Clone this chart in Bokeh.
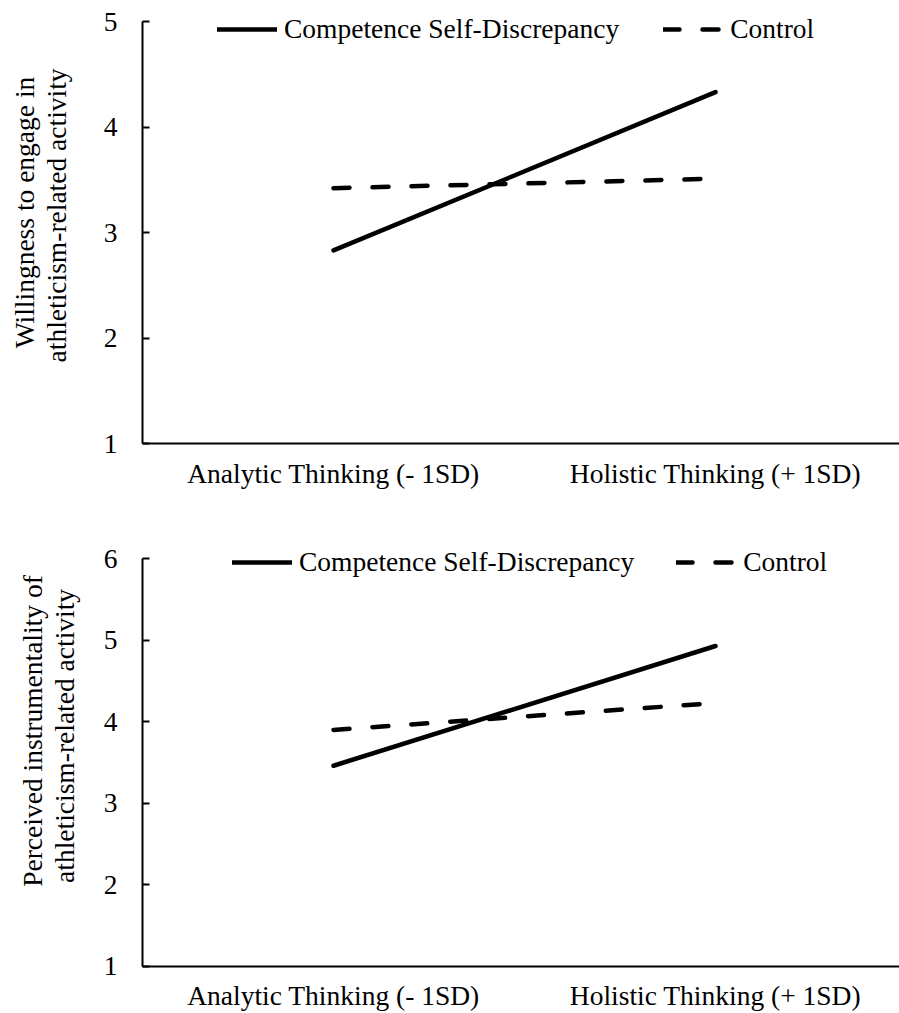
from bokeh.plotting import figure
from bokeh.models import Legend, LegendItem, Label, FixedTicker, Range1d
from bokeh.layouts import column
from bokeh.embed import file_html
from bokeh.resources import INLINE

# ---------------- data ----------------
categories = ["Analytic Thinking (- 1SD)", "Holistic Thinking (+ 1SD)"]
x_pos = [0, 1]
series_names = ["Competence Self-Discrepancy", "Control"]

willing_competence = [2.83, 4.33]
willing_control = [3.42, 3.51]
willing_ticks = [1, 2, 3, 4, 5]
willing_title = ["Willingness to engage in", "athleticism-related  activity"]

instr_competence = [3.46, 4.93]
instr_control = [3.90, 4.23]
instr_ticks = [1, 2, 3, 4, 5, 6]
instr_title = ["Perceived instrumentality of", "athleticism-related  activity"]

FONT = "Liberation Serif"
FS = "27.5px"
W = 899
PX_PER_CAT = 382.0        # pixels per category step
CAT0_PX = 333.0           # pixel position of first category
AXIS_X = -0.5             # category-axis lower edge (where the value axis crosses)
X_START = -CAT0_PX / PX_PER_CAT
X_END = X_START + W / PX_PER_CAT


def make_panel(comp, ctrl, ticks, title_lines, height, top_px, bottom_px,
               legend_loc, legend_spacing, title_pos):
    ppu = (bottom_px - top_px) / (ticks[-1] - ticks[0])
    y_start = ticks[0] - (height - bottom_px) / ppu
    y_end = ticks[-1] + top_px / ppu
    p = figure(width=W, height=height, output_backend="svg", toolbar_location=None,
               x_range=Range1d(X_START, X_END),
               y_range=Range1d(y_start, y_end),
               min_border_left=0, min_border_right=0,
               min_border_top=0, min_border_bottom=0,
               background_fill_color="white", border_fill_color="white")
    p.outline_line_color = None
    p.grid.visible = False

    r1 = p.line(x_pos, comp, line_width=4.5, line_color="black", line_cap="round")
    r2 = p.line(x_pos, ctrl, line_width=4.5, line_color="black", line_cap="round",
                line_dash="16 23")

    for ax in (p.xaxis[0], p.yaxis[0]):
        ax.axis_line_width = 2
        ax.axis_line_color = "black"
        ax.major_tick_line_width = 2
        ax.major_tick_line_color = "black"
        ax.minor_tick_line_color = None
        ax.major_label_text_font = FONT
        ax.major_label_text_font_size = FS
        ax.major_label_text_color = "black"
    p.xaxis.ticker = FixedTicker(ticks=x_pos)
    p.xaxis.major_label_overrides = {x: c for x, c in zip(x_pos, categories)}
    p.xaxis.fixed_location = ticks[0]
    p.xaxis.bounds = (AXIS_X, X_END)
    p.xaxis.major_tick_in = 0
    p.xaxis.major_tick_out = 0
    p.xaxis.major_label_standoff = 14

    p.yaxis.ticker = FixedTicker(ticks=ticks)
    p.yaxis.fixed_location = AXIS_X
    p.yaxis.bounds = (ticks[0], ticks[-1])
    p.yaxis.major_tick_in = 7
    p.yaxis.major_tick_out = 0
    p.yaxis.major_label_standoff = 25

    legend = Legend(
        items=[LegendItem(label=series_names[0], renderers=[r1]),
               LegendItem(label=series_names[1], renderers=[r2])],
        orientation="horizontal", location=legend_loc,
        glyph_width=60, glyph_height=30, label_height=30, label_standoff=7,
        spacing=legend_spacing, padding=0, margin=0, border_line_color=None,
        background_fill_alpha=0, label_text_font=FONT, label_text_font_size=FS,
        label_text_color="black")
    p.add_layout(legend)

    for (lx, ly), txt in zip(title_pos, title_lines):
        p.add_layout(Label(x=lx, y=ly, x_units="screen", y_units="screen", text=txt,
                           angle=90, angle_units="deg", text_align="center",
                           text_baseline="alphabetic", text_font=FONT,
                           text_font_size=FS, text_color="black"))
    return p


p1 = make_panel(willing_competence, willing_control, willing_ticks, willing_title,
                height=530, top_px=21, bottom_px=443,
                legend_loc=(217, 485), legend_spacing=44,
                title_pos=[(24, 318), (56, 318.5)])
p2 = make_panel(instr_competence, instr_control, instr_ticks, instr_title,
                height=483, top_px=28.3, bottom_px=435.7,
                legend_loc=(232, 435), legend_spacing=42,
                title_pos=[(32, 282.5), (64, 281)])

layout = column(p1, p2, spacing=0)
open("out.html", "w").write(file_html(layout, INLINE))
